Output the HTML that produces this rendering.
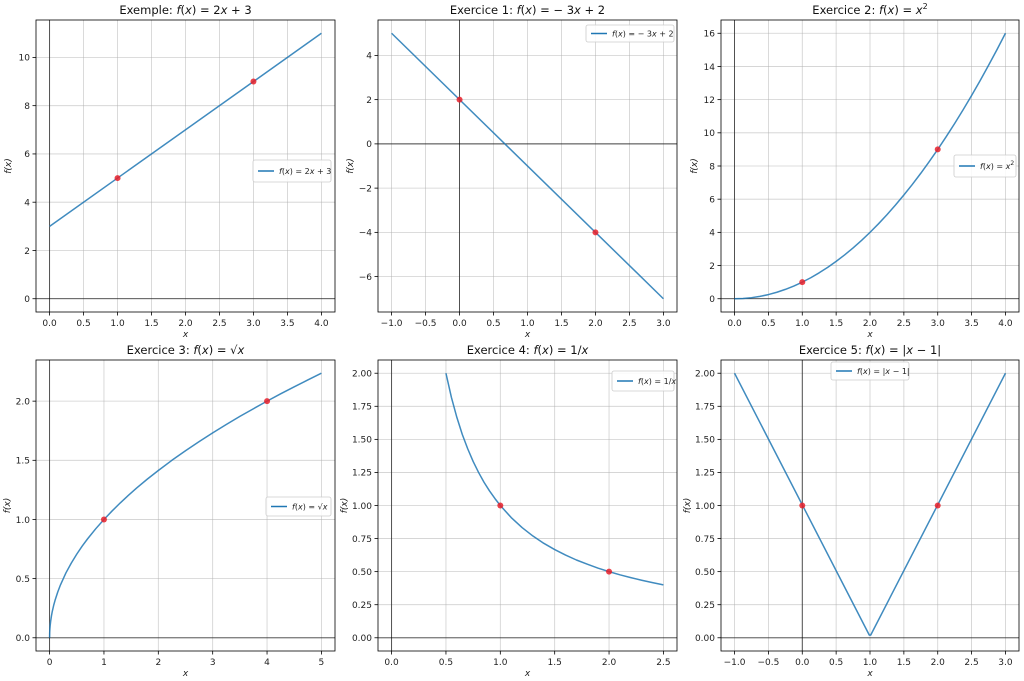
<!DOCTYPE html>
<html><head><meta charset="utf-8">
<style>
body{margin:0;background:#fff;}
svg{display:block;font-family:"DejaVu Sans","Liberation Sans",sans-serif;}
</style></head>
<body>
<svg id="fig" width="1024" height="681" viewBox="0 0 1024 681" xmlns="http://www.w3.org/2000/svg"></svg>
<script>
// ---- data ----
const p1X = [0, 4];
const p1Y = [3, 11];
const p1PtsX = [1, 3];
const p1PtsY = [5, 9];

const p2X = [-1, 3];
const p2Y = [5, -7];
const p2PtsX = [0, 2];
const p2PtsY = [2, -4];

const p3X = [0,0.125,0.25,0.375,0.5,0.625,0.75,0.875,1,1.125,1.25,1.375,1.5,1.625,1.75,1.875,2,2.125,2.25,2.375,2.5,2.625,2.75,2.875,3,3.125,3.25,3.375,3.5,3.625,3.75,3.875,4];
const p3Y = [0,0.0156,0.0625,0.1406,0.25,0.3906,0.5625,0.7656,1,1.2656,1.5625,1.8906,2.25,2.6406,3.0625,3.5156,4,4.5156,5.0625,5.6406,6.25,6.8906,7.5625,8.2656,9,9.7656,10.5625,11.3906,12.25,13.1406,14.0625,15.0156,16];
const p3PtsX = [1, 3];
const p3PtsY = [1, 9];

const p4X = [0,0.002,0.005,0.01,0.02,0.035,0.05,0.075,0.1,0.15,0.2,0.3,0.4,0.5,0.6,0.7,0.85,1,1.15,1.3,1.45,1.6,1.8,2,2.25,2.5,2.75,3,3.25,3.5,3.75,4,4.25,4.5,4.75,5];
const p4Y = [0,0.045,0.071,0.1,0.141,0.187,0.224,0.274,0.316,0.387,0.447,0.548,0.632,0.707,0.775,0.837,0.922,1,1.072,1.140,1.204,1.265,1.342,1.414,1.5,1.581,1.658,1.732,1.803,1.871,1.936,2,2.062,2.121,2.179,2.236];
const p4PtsX = [1, 4];
const p4PtsY = [1, 2];

const p5X = [0.5,0.55,0.6,0.65,0.7,0.75,0.8,0.85,0.9,0.95,1,1.1,1.2,1.3,1.4,1.5,1.6,1.7,1.8,1.9,2,2.1,2.2,2.3,2.4,2.5];
const p5Y = [2,1.818,1.667,1.538,1.429,1.333,1.25,1.176,1.111,1.053,1,0.909,0.833,0.769,0.714,0.667,0.625,0.588,0.556,0.526,0.5,0.476,0.455,0.435,0.417,0.4];
const p5PtsX = [1, 2];
const p5PtsY = [1, 0.5];

const p6X = [-1, 0.99, 1.01, 3];
const p6Y = [2, 0.02, 0.02, 2];
const p6PtsX = [0, 2];
const p6PtsY = [1, 1];

const xTicks1 = [0,0.5,1,1.5,2,2.5,3,3.5,4];
const yTicks1 = [0,2,4,6,8,10];
const xTicks2 = [-1,-0.5,0,0.5,1,1.5,2,2.5,3];
const yTicks2 = [-6,-4,-2,0,2,4];
const yTicks3 = [0,2,4,6,8,10,12,14,16];
const xTicks4 = [0,1,2,3,4,5];
const yTicks4 = [0,0.5,1,1.5,2];
const xTicks5 = [0,0.5,1,1.5,2,2.5];
const yTicks5 = [0,0.25,0.5,0.75,1,1.25,1.5,1.75,2];

const svg = document.getElementById('fig');
const NS = 'http://www.w3.org/2000/svg';
function mk(tag, attrs, parent){ const e=document.createElementNS(NS,tag); for(const k in attrs) e.setAttribute(k,attrs[k]); (parent||svg).appendChild(e); return e; }

function fmt(v, dec){ let s=v.toFixed(dec); if(v<0) s='\u2212'+(-v).toFixed(dec); return s; }

function panel(cfg){
  const g = mk('g',{});
  
  
  const {L,R,T,B} = cfg;
  const xs = cfg.x.concat([0]), ys = cfg.y.concat([0]);
  let x0=Math.min(...xs), x1=Math.max(...xs), y0=Math.min(...ys), y1=Math.max(...ys);
  const mx=(x1-x0)*0.05, my=(y1-y0)*0.05; x0-=mx; x1+=mx; y0-=my; y1+=my;
  const sx = v => L + (v-x0)/(x1-x0)*(R-L);
  const sy = v => B - (v-y0)/(y1-y0)*(B-T);
  cfg.xt.forEach(t=>{
    const l=mk('line',{x1:sx(t),x2:sx(t),y1:T,y2:B,stroke:'#b0b0b0','stroke-width':0.8,'stroke-opacity':0.6},g);
    
    
    mk('line',{x1:sx(t),x2:sx(t),y1:B,y2:B+3.5,stroke:'#000','stroke-width':0.8},g);
    const tx=mk('text',{x:sx(t),y:B+14,'font-size':9,'text-anchor':'middle',fill:'#222'},g);
    tx.textContent=fmt(t,cfg.xdec);
    
    
  });
  cfg.yt.forEach(t=>{
    const l=mk('line',{x1:L,x2:R,y1:sy(t),y2:sy(t),stroke:'#b0b0b0','stroke-width':0.8,'stroke-opacity':0.6},g);
    
    
    mk('line',{x1:L-3.5,x2:L,y1:sy(t),y2:sy(t),stroke:'#000','stroke-width':0.8},g);
    const tx=mk('text',{x:L-6,y:sy(t)+3.3,'font-size':9,'text-anchor':'end',fill:'#222'},g);
    tx.textContent=fmt(t,cfg.ydec);
    
    
  });
  const hz=mk('line',{x1:L,x2:R,y1:sy(0),y2:sy(0),stroke:'#000','stroke-width':0.9,'stroke-opacity':0.7},g);
  
  
  const vz=mk('line',{x1:sx(0),x2:sx(0),y1:T,y2:B,stroke:'#000','stroke-width':0.9,'stroke-opacity':0.7},g);
  
  
  const d=cfg.x.map((v,i)=>(i?'L':'M')+sx(v).toFixed(2)+','+sy(cfg.y[i]).toFixed(2)).join(' ');
  const p=mk('path',{d:d,fill:'none',stroke:'#1f77b4','stroke-width':1.5,'stroke-opacity':0.85,'stroke-linejoin':'round'},g);
  
  
  cfg.px.forEach((v,i)=>{
    const c=mk('circle',{cx:sx(v),cy:sy(cfg.py[i]),r:3,fill:'#e8202a','fill-opacity':0.85},g);
    
    
  });
  const fr=mk('rect',{x:L,y:T,width:R-L,height:B-T,fill:'none',stroke:'#000','stroke-width':0.8},g);
  
  
  const ti=mk('text',{x:(L+R)/2,y:T-6,'font-size':11.5,'text-anchor':'middle',fill:'#111'},g);
  ti.innerHTML=cfg.title;
  
  
  const xl=mk('text',{x:(L+R)/2,y:B+25,'font-size':9,'font-style':'italic','text-anchor':'middle',fill:'#222'},g);
  xl.textContent='x';
  
  
  const yl=mk('text',{x:0,y:0,'font-size':9,'font-style':'italic','text-anchor':'middle',fill:'#222',transform:`translate(${L-cfg.ylOff},${(T+B)/2}) rotate(-90)`},g);
  yl.textContent='f(x)';
  
  
  const lg=mk('g',{},g);
  
  
  const [lx,ly,lw,lh]=cfg.leg;
  mk('rect',{x:lx,y:ly,width:lw,height:lh,rx:2,fill:'#fff','fill-opacity':0.85,stroke:'#ccc','stroke-width':0.8},lg);
  mk('line',{x1:lx+5,x2:lx+21,y1:ly+lh/2,y2:ly+lh/2,stroke:'#1f77b4','stroke-width':1.5},lg);
  const lt=mk('text',{x:lx+26,y:ly+lh/2+3,'font-size':8,fill:'#222'},lg);
  lt.innerHTML=cfg.legText;
  
  
}
const fx='<tspan font-style="italic">f</tspan>(<tspan font-style="italic">x</tspan>)';
const X='<tspan font-style="italic">x</tspan>';
panel({name:'panel-exemple',L:36,R:335,T:20,B:312,x:p1X,y:p1Y,px:p1PtsX,py:p1PtsY,xt:xTicks1,yt:yTicks1,xdec:1,ydec:0,ylOff:25,
  title:'Exemple: '+fx+' = 2'+X+' + 3',legText:fx+' = 2'+X+' + 3',leg:[253,160,78,22]});
panel({name:'panel-exercice-1',L:378,R:677,T:20,B:312,x:p2X,y:p2Y,px:p2PtsX,py:p2PtsY,xt:xTicks2,yt:yTicks2,xdec:1,ydec:0,ylOff:25,
  title:'Exercice 1: '+fx+' = \u2212 3'+X+' + 2',legText:fx+' = \u2212 3'+X+' + 2',leg:[586,25,88,17]});
panel({name:'panel-exercice-2',L:721,R:1019,T:20,B:312,x:p3X,y:p3Y,px:p3PtsX,py:p3PtsY,xt:xTicks1,yt:yTicks3,xdec:1,ydec:0,ylOff:24,
  title:'Exercice 2: '+fx+' = '+X+'<tspan font-size="8" dy="-5">2</tspan>',legText:fx+' = '+X+'<tspan font-size="6" dy="-4">2</tspan>',leg:[954,155,62,22]});
panel({name:'panel-exercice-3',L:36,R:335,T:360,B:651,x:p4X,y:p4Y,px:p4PtsX,py:p4PtsY,xt:xTicks4,yt:yTicks4,xdec:0,ydec:1,ylOff:26,
  title:'Exercice 3: '+fx+' = \u221A'+X,legText:fx+' = \u221A'+X,leg:[266,497,65,19]});
panel({name:'panel-exercice-4',L:378,R:677,T:360,B:651,x:p5X,y:p5Y,px:p5PtsX,py:p5PtsY,xt:xTicks5,yt:yTicks5,xdec:1,ydec:2,ylOff:31,
  title:'Exercice 4: '+fx+' = 1/'+X,legText:fx+' = 1/'+X,leg:[612,371,62,20]});
panel({name:'panel-exercice-5',L:721,R:1019,T:360,B:651,x:p6X,y:p6Y,px:p6PtsX,py:p6PtsY,xt:xTicks2,yt:yTicks5,xdec:1,ydec:2,ylOff:31,
  title:'Exercice 5: '+fx+' = |'+X+' \u2212 1|',legText:fx+' = |'+X+' \u2212 1|',leg:[831,362,78,18]});
</script>
</body></html>
